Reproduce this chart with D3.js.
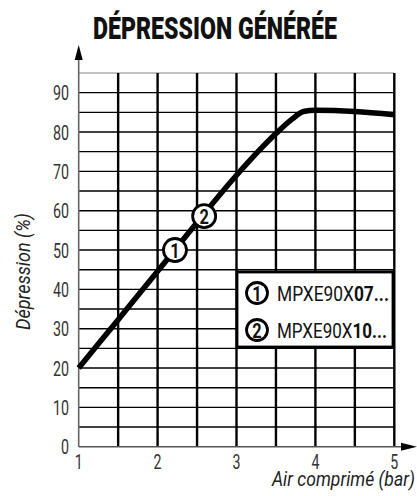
<!DOCTYPE html>
<html>
<head>
<meta charset="utf-8">
<script src="https://cdn.jsdelivr.net/npm/d3@7"></script>
<style>
  html, body { margin: 0; padding: 0; background: #fff; }
  text { font-family: "Roboto", "Noto Sans", sans-serif; }
</style>
</head>
<body>
<svg id="chart" width="417" height="496"></svg>
<script>
// ---- data ----
const title = "DÉPRESSION GÉNÉRÉE";
const yLabel = "Dépression (%)";
const xLabel = "Air comprimé (bar)";
const xTicks = [1, 2, 3, 4, 5];
const yTicks = [0, 10, 20, 30, 40, 50, 60, 70, 80, 90];
const curveX = [1, 1.5, 2, 2.5, 3, 3.5, 3.7, 3.85, 4, 4.5, 5];
const curveY = [20, 32.3, 44.6, 57, 69, 79.6, 83.2, 85.2, 85.5, 85.2, 84.4];
const markerIds = ["1", "2"];
const markerX = [2.22, 2.59];
const markerY = [50, 58.6];
const legendCodes = ["MPXE90X", "MPXE90X"];
const legendSuffix = ["07...", "10..."];

// ---- layout ----
const svg = d3.select("#chart");
const x = d3.scaleLinear().domain([1, 5]).range([78.7, 394.3]);
const y = d3.scaleLinear().domain([0, 95]).range([446.7, 73]);

// fit a text element horizontally to a target width (condensed look)
function fit(sel, tx, ty, w, anchor) {
  sel.each(function () {
    const el = d3.select(this);
    const len = this.getComputedTextLength();
    const s = w / len;
    const off = anchor === "end" ? -w : anchor === "middle" ? -w / 2 : 0;
    el.attr("text-anchor", "start")
      .attr("transform", `translate(${tx + off},${ty}) scale(${s},1)`);
  });
}

// grid
const g = svg.append("g");
const hLines = d3.range(5, 95, 5);
g.selectAll("line.h").data(hLines).join("line")
  .attr("x1", x(1)).attr("x2", x(5))
  .attr("y1", d => y(d)).attr("y2", d => y(d))
  .attr("stroke", "#000").attr("stroke-width", 1.4);
g.append("line").attr("x1", x(1)).attr("x2", x(5)).attr("y1", y(95)).attr("y2", y(95))
  .attr("stroke", "#888").attr("stroke-width", 1.2);
const vLines = d3.range(1.5, 5.01, 0.5);
g.selectAll("line.v").data(vLines).join("line")
  .attr("x1", d => x(d)).attr("x2", d => x(d))
  .attr("y1", y(95)).attr("y2", y(0))
  .attr("stroke", "#000").attr("stroke-width", 2.4);

// axes with arrows
svg.append("line").attr("x1", x(1)).attr("x2", x(1)).attr("y1", y(0)).attr("y2", 58)
  .attr("stroke", "#666").attr("stroke-width", 1.6);
svg.append("path").attr("d", `M${x(1)},45 L${x(1)-4},60 L${x(1)+4},60 Z`).attr("fill", "#000");
svg.append("line").attr("x1", x(1)).attr("x2", 404).attr("y1", y(0)).attr("y2", y(0))
  .attr("stroke", "#555").attr("stroke-width", 1.6);
svg.append("path").attr("d", `M417,${y(0)} L401,${y(0)-4} L401,${y(0)+4} Z`).attr("fill", "#000");

// tick labels
const sx = 0.68;
svg.selectAll("text.yt").data(yTicks).join("text")
  .attr("font-size", 21).attr("fill", "#333").attr("text-anchor", "end")
  .attr("transform", d => `translate(69,${y(d) + 7.5}) scale(${sx},1)`)
  .text(d => d);
svg.selectAll("text.xt").data(xTicks).join("text")
  .attr("font-size", 20).attr("fill", "#333").attr("text-anchor", "middle")
  .attr("transform", d => `translate(${x(d)},469) scale(${sx + 0.03},1)`)
  .text(d => d);

// axis titles
svg.append("g").attr("transform", "translate(30,271.5) rotate(-90)")
  .append("text").attr("font-size", 21).attr("font-style", "italic").attr("fill", "#222")
  .text(yLabel).call(fit, 0, 0, 117, "middle");
svg.append("text").attr("font-size", 20).attr("font-style", "italic").attr("fill", "#222")
  .text(xLabel).call(fit, 415, 486, 143, "end");

// title
svg.append("text").attr("font-size", 31).attr("font-weight", 900).attr("fill", "#111")
  .text(title).call(fit, 215, 39, 244, "middle");

// curve
const pts = curveX.map((d, i) => [d, curveY[i]]);
svg.append("path").datum(pts)
  .attr("d", d3.line().x(d => x(d[0])).y(d => y(d[1])).curve(d3.curveMonotoneX))
  .attr("fill", "none").attr("stroke", "#000").attr("stroke-width", 5.5).attr("stroke-linejoin", "round");

// markers
const mk = svg.selectAll("g.mk").data(markerIds).join("g")
  .attr("transform", (d, i) => `translate(${x(markerX[i])},${y(markerY[i])})`);
mk.append("circle").attr("r", 11.5).attr("fill", "#fff").attr("stroke", "#000").attr("stroke-width", 2.8);
mk.append("text").attr("font-size", 21).attr("font-weight", "bold").attr("fill", "#111")
  .attr("text-anchor", "middle").attr("transform", "translate(0,7.5) scale(0.78,1)")
  .text(d => d);

// legend
const lg = svg.append("g");
lg.append("rect").attr("x", 237).attr("y", 272).attr("width", 156).attr("height", 75)
  .attr("fill", "#fff").attr("stroke", "#000").attr("stroke-width", 2.8);
const rows = lg.selectAll("g.row").data(markerIds).join("g")
  .attr("transform", (d, i) => `translate(257,${293 + i * 37})`);
rows.append("circle").attr("r", 10.5).attr("fill", "#fff").attr("stroke", "#000").attr("stroke-width", 2.8);
rows.append("text").attr("font-size", 21).attr("font-weight", "bold").attr("fill", "#111")
  .attr("text-anchor", "middle").attr("transform", "translate(0,7.5) scale(0.78,1)")
  .text(d => d);
const lt = rows.append("text").attr("font-size", 21).attr("fill", "#111");
lt.append("tspan").text((d, i) => legendCodes[i]);
lt.append("tspan").attr("font-weight", "bold").text((d, i) => legendSuffix[i]);
lt.each(function (d, i) { d3.select(this).call(fit, 20, 7.5, i === 0 ? 112 : 110, "start"); });
</script>
</body>
</html>
